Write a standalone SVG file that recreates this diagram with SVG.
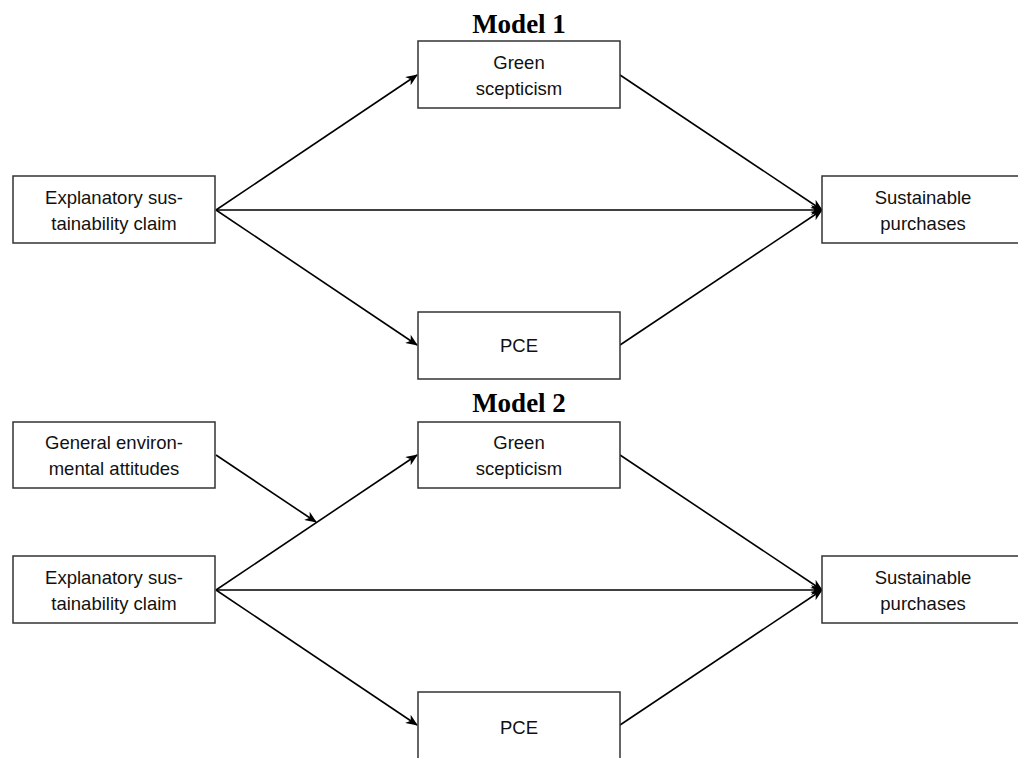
<svg xmlns="http://www.w3.org/2000/svg" width="1018" height="758" viewBox="0 0 1018 758">
<defs>
<marker id="arr" viewBox="0 0 12 10" markerWidth="12" markerHeight="10" refX="11" refY="5" orient="auto" markerUnits="userSpaceOnUse">
<path d="M0,0 L12,5 L0,10 L3.5,5 z" fill="#000"/>
</marker>
<style>
.box{fill:#fff;stroke:#333;stroke-width:1.5}
.lbl{font-family:"Liberation Sans",Arial,sans-serif;font-size:18.5px;fill:#111;text-anchor:middle}
.ttl{font-family:"Liberation Serif","Times New Roman",serif;font-size:27px;font-weight:bold;fill:#000;text-anchor:middle}
.con{stroke:#000;stroke-width:1.6;fill:none;marker-end:url(#arr)}
</style>
</defs>
<rect width="1018" height="758" fill="#fff"/>
<text class="ttl" x="519" y="33">Model 1</text>
<text class="ttl" x="519" y="412">Model 2</text>
<g id="connectors">
<line class="con" x1="216" y1="210" x2="417" y2="75"/>
<line class="con" x1="620" y1="75" x2="822" y2="210"/>
<line class="con" x1="216" y1="210" x2="822" y2="210"/>
<line class="con" x1="216" y1="210" x2="417" y2="345"/>
<line class="con" x1="620" y1="345" x2="822" y2="210"/>
<line class="con" x1="216" y1="590" x2="417" y2="455"/>
<line class="con" x1="620" y1="455" x2="822" y2="590"/>
<line class="con" x1="216" y1="590" x2="822" y2="590"/>
<line class="con" x1="216" y1="590" x2="417" y2="725"/>
<line class="con" x1="620" y1="725" x2="822" y2="590"/>
<line class="con" x1="216" y1="455" x2="316" y2="522"/>
</g>
<g id="m1-green"><rect class="box" x="418" y="41" width="202" height="67"/><text class="lbl" x="519" y="69">Green</text><text class="lbl" x="519" y="95">scepticism</text></g>
<g id="m1-claim"><rect class="box" x="13" y="176" width="202" height="67"/><text class="lbl" x="114" y="204">Explanatory sus-</text><text class="lbl" x="114" y="230">tainability claim</text></g>
<g id="m1-purchases"><rect class="box" x="822" y="176" width="202" height="67"/><text class="lbl" x="923" y="204">Sustainable</text><text class="lbl" x="923" y="230">purchases</text></g>
<g id="m1-pce"><rect class="box" x="418" y="312" width="202" height="67"/><text class="lbl" x="519" y="352">PCE</text></g>
<g id="m2-attitudes"><rect class="box" x="13" y="422" width="202" height="66"/><text class="lbl" x="114" y="449">General environ-</text><text class="lbl" x="114" y="475">mental attitudes</text></g>
<g id="m2-green"><rect class="box" x="418" y="422" width="202" height="66"/><text class="lbl" x="519" y="449">Green</text><text class="lbl" x="519" y="475">scepticism</text></g>
<g id="m2-claim"><rect class="box" x="13" y="556" width="202" height="67"/><text class="lbl" x="114" y="584">Explanatory sus-</text><text class="lbl" x="114" y="610">tainability claim</text></g>
<g id="m2-purchases"><rect class="box" x="822" y="556" width="202" height="67"/><text class="lbl" x="923" y="584">Sustainable</text><text class="lbl" x="923" y="610">purchases</text></g>
<g id="m2-pce"><rect class="box" x="418" y="692" width="202" height="67"/><text class="lbl" x="519" y="734">PCE</text></g>
</svg>
